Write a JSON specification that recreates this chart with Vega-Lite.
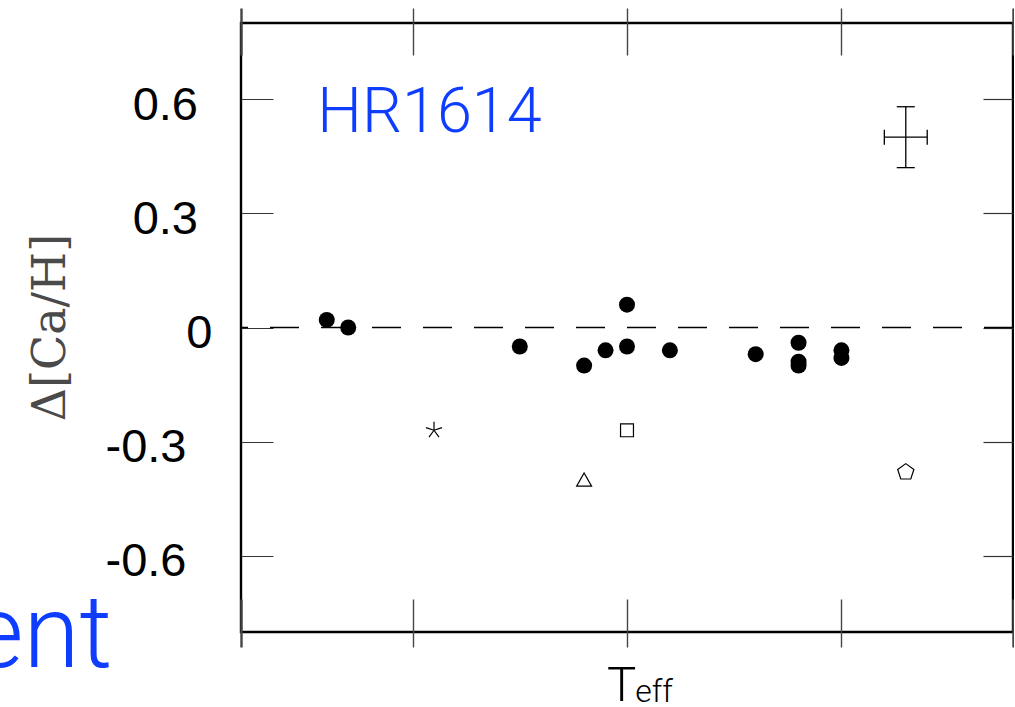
{
  "$schema": "https://vega.github.io/schema/vega-lite/v6.json",
  "width": 772,
  "height": 609,
  "autosize": {"type": "none"},
  "padding": {"left": 241, "top": 23, "right": 1, "bottom": 75},
  "background": "white",
  "config": {
    "view": {"stroke": "black", "strokeWidth": 2.4},
    "axis": {"grid": false, "domain": false}
  },
  "datasets": {
    "stars": [
      {"teff": 4800, "dca": 0.02},
      {"teff": 4850, "dca": 0.0},
      {"teff": 5250, "dca": -0.05},
      {"teff": 5400, "dca": -0.10},
      {"teff": 5450, "dca": -0.06},
      {"teff": 5500, "dca": 0.06},
      {"teff": 5500, "dca": -0.05},
      {"teff": 5600, "dca": -0.06},
      {"teff": 5800, "dca": -0.07},
      {"teff": 5900, "dca": -0.04},
      {"teff": 5900, "dca": -0.09},
      {"teff": 5900, "dca": -0.10},
      {"teff": 6000, "dca": -0.06},
      {"teff": 6000, "dca": -0.08}
    ],
    "others": [
      {"teff": 5050, "dca": -0.27, "kind": "asterisk"},
      {"teff": 5400, "dca": -0.40, "kind": "triangle"},
      {"teff": 5500, "dca": -0.27, "kind": "square"},
      {"teff": 6150, "dca": -0.38, "kind": "pentagon"}
    ],
    "errbar": [
      {"teff": 6150, "dca": 0.5, "teff_lo": 6100, "teff_hi": 6200, "dca_lo": 0.42, "dca_hi": 0.58}
    ],
    "caps": [
      {"teff": 6100, "dca": 0.5, "cap": "side"},
      {"teff": 6200, "dca": 0.5, "cap": "side"},
      {"teff": 6150, "dca": 0.42, "cap": "end"},
      {"teff": 6150, "dca": 0.58, "cap": "end"}
    ],
    "one": [{}]
  },
  "layer": [
    {
      "data": {"name": "one"},
      "mark": {"type": "rule", "color": "black", "strokeWidth": 1.3, "strokeDash": [29, 22]},
      "encoding": {
        "y": {"datum": 0, "type": "quantitative", "axis": null, "scale": {"domain": [-0.8, 0.8], "nice": false, "zero": false}}
      }
    },
    {
      "data": {"name": "stars"},
      "mark": {"type": "point", "shape": "circle", "filled": true, "color": "black", "opacity": 1, "size": 256},
      "encoding": {
        "x": {
          "field": "teff", "type": "quantitative",
          "scale": {"domain": [4600, 6400], "nice": false, "zero": false},
          "axis": {
            "orient": "bottom", "values": [4600, 5000, 5500, 6000, 6400],
            "offset": 15, "tickSize": -48, "tickColor": "#444",
            "tickWidth": {"condition": {"test": "datum.value == 4600 || datum.value == 6400", "value": 2.4}, "value": 1.4},
            "labels": false,
            "title": "T", "titleFont": "Roboto", "titleFontWeight": 300, "titleFontSize": 49, "titleColor": "black",
            "titleX": 380, "titleY": 53, "titleAlign": "center", "titleBaseline": "alphabetic"
          }
        },
        "y": {
          "field": "dca", "type": "quantitative",
          "scale": {"domain": [-0.8, 0.8], "nice": false, "zero": false},
          "axis": {
            "orient": "left", "values": [-0.6, -0.3, 0, 0.3, 0.6],
            "tickSize": -32, "tickColor": "#333", "tickWidth": 1.2,
            "labelExpr": "datum.value == 0 ? '0' : (datum.value < 0 ? '-' : '') + format(abs(datum.value), '.1f')",
            "labelFont": "Liberation Sans", "labelFontSize": 47, "labelColor": "black",
            "labelOffset": 6,
            "labelPadding": {"condition": [{"test": "datum.value == 0", "value": 61}, {"test": "datum.value < 0", "value": 87}], "value": 75.5},
            "title": "Δ[Ca/H]", "titleFont": "DejaVu Serif", "titleFontWeight": "normal", "titleFontSize": 46, "titleColor": "#4a4a4a",
            "titleAngle": 270, "titleX": -191, "titleY": 304, "titleAlign": "center", "titleBaseline": "middle"
          }
        }
      }
    },
    {
      "data": {"name": "others"},
      "mark": {"type": "point", "filled": false, "color": "black", "strokeWidth": 1.2, "opacity": 1, "size": 289},
      "encoding": {
        "x": {"field": "teff", "type": "quantitative", "axis": null},
        "y": {"field": "dca", "type": "quantitative", "axis": null},
        "shape": {
          "field": "kind", "type": "nominal", "legend": null,
          "scale": {
            "domain": ["asterisk", "triangle", "square", "pentagon"],
            "range": [
              "M0,0L0,-1M0,0L0.951,-0.309M0,0L0.588,0.809M0,0L-0.588,0.809M0,0L-0.951,-0.309",
              "M0,-0.8L0.88,0.75L-0.88,0.75Z",
              "M-0.76,-0.76H0.76V0.76H-0.76Z",
              "M0,-1L0.951,-0.309L0.588,0.809L-0.588,0.809L-0.951,-0.309Z"
            ]
          }
        }
      }
    },
    {
      "data": {"name": "errbar"},
      "mark": {"type": "rule", "color": "black", "strokeWidth": 1.3},
      "encoding": {
        "x": {
          "field": "teff_lo", "type": "quantitative",
          "axis": {
            "orient": "top", "values": [4600, 5000, 5500, 6000, 6400],
            "offset": 15, "tickSize": -47, "tickColor": "#444",
            "tickWidth": {"condition": {"test": "datum.value == 4600 || datum.value == 6400", "value": 2.4}, "value": 1.4},
            "labels": false, "title": null
          }
        },
        "x2": {"field": "teff_hi"},
        "y": {
          "field": "dca", "type": "quantitative",
          "axis": {
            "orient": "right", "values": [-0.6, -0.3, 0, 0.3, 0.6],
            "tickSize": -30, "tickColor": "#333", "tickWidth": 1.2,
            "labels": false, "title": null
          }
        }
      }
    },
    {
      "data": {"name": "errbar"},
      "mark": {"type": "rule", "color": "black", "strokeWidth": 1.3},
      "encoding": {
        "x": {"field": "teff", "type": "quantitative", "axis": null},
        "y": {"field": "dca_lo", "type": "quantitative", "axis": null},
        "y2": {"field": "dca_hi"}
      }
    },
    {
      "data": {"name": "caps"},
      "mark": {"type": "point", "filled": false, "color": "black", "strokeWidth": 1.3, "opacity": 1, "size": 289},
      "encoding": {
        "x": {"field": "teff", "type": "quantitative", "axis": null},
        "y": {"field": "dca", "type": "quantitative", "axis": null},
        "shape": {
          "field": "cap", "type": "nominal", "legend": null,
          "scale": {"domain": ["side", "end"], "range": ["M0,-0.88L0,0.88", "M-1.06,0L1.06,0"]}
        }
      }
    },
    {
      "data": {"name": "one"},
      "mark": {"type": "text", "text": "HR1614", "font": "Roboto", "fontWeight": 300, "fontSize": 63, "color": "#0f3dfe", "align": "left", "baseline": "alphabetic"},
      "encoding": {
        "x": {"datum": 4778, "type": "quantitative", "axis": null},
        "y": {"datum": 0.513, "type": "quantitative", "axis": null}
      }
    },
    {
      "data": {"name": "one"},
      "mark": {"type": "text", "text": "eff", "font": "Roboto", "fontWeight": 300, "fontSize": 32, "color": "black", "align": "left", "baseline": "alphabetic"},
      "encoding": {
        "x": {"datum": 5519, "type": "quantitative", "axis": null},
        "y": {"datum": -0.985, "type": "quantitative", "axis": null}
      }
    },
    {
      "data": {"name": "one"},
      "mark": {"type": "text", "text": "ent", "font": "Roboto", "fontWeight": 300, "fontSize": 102, "color": "#0f3dfe", "align": "right", "baseline": "alphabetic"},
      "encoding": {
        "x": {"datum": 4300, "type": "quantitative", "axis": null},
        "y": {"datum": -0.893, "type": "quantitative", "axis": null}
      }
    }
  ],
  "resolve": {
    "axis": {"x": "independent", "y": "independent"},
    "scale": {"shape": "independent"}
  }
}
